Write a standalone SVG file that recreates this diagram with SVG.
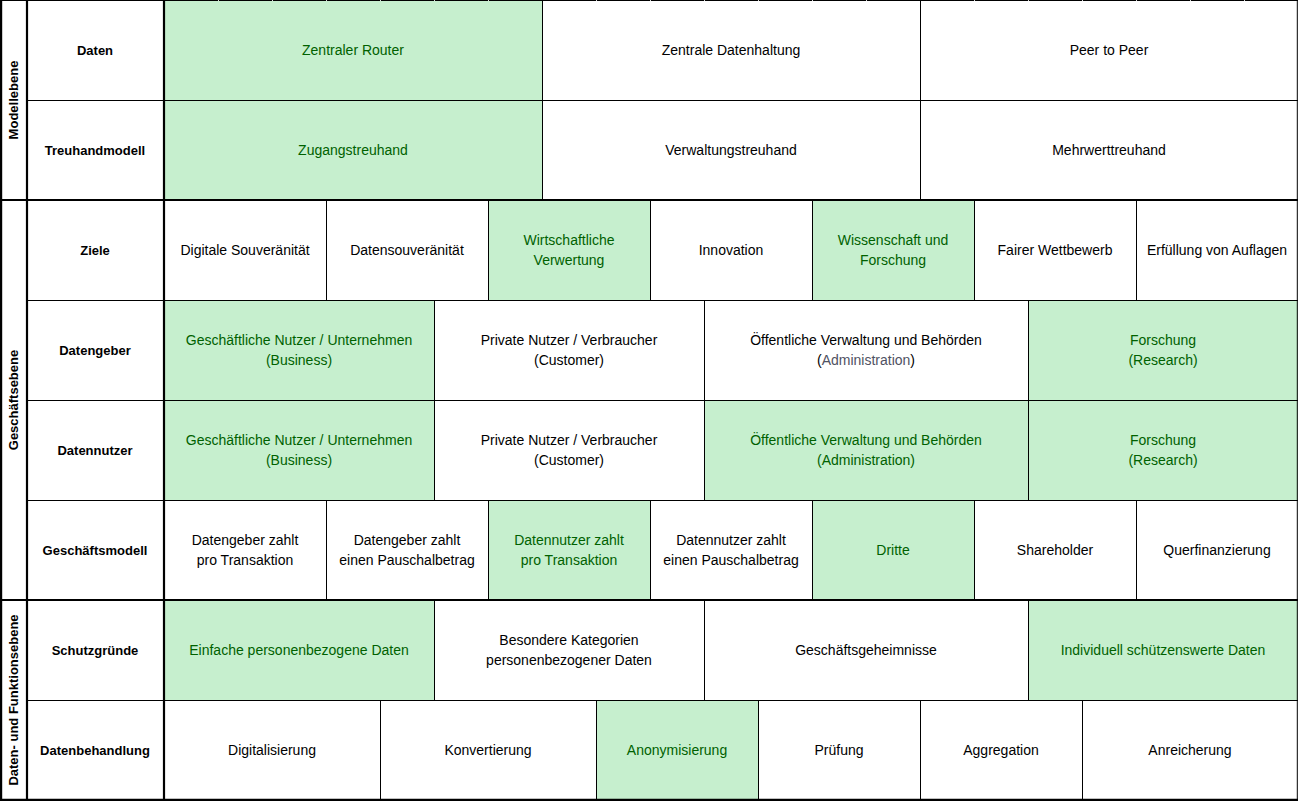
<svg xmlns="http://www.w3.org/2000/svg" width="1298" height="801" viewBox="0 0 1298 801">
<style>
.bg{fill:#ffffff}
.g{fill:#C6EFCE}
.w{fill:#ffffff}
text{font-family:"Liberation Sans",Arial,sans-serif;font-size:14px;text-anchor:middle}
.t{fill:#000000}
.tg{fill:#006100}
.lab{font-weight:bold;font-size:13px;fill:#000000}
.grey{fill:#4f5263}
.thin{stroke:#000;stroke-width:1;fill:none}
.thick{stroke:#000;stroke-width:2.2;fill:none}
.notch{stroke:#d9d9d9;stroke-width:1}
</style>
<rect class="bg" x="0" y="0" width="1298" height="801"/>

<!-- section labels -->
<g id="sec-modellebene"><text class="lab" transform="translate(18,100) rotate(-90)">Modellebene</text></g>
<g id="sec-geschaeftsebene"><text class="lab" transform="translate(18,400) rotate(-90)">Geschäftsebene</text></g>
<g id="sec-datenfunktion"><text class="lab" transform="translate(18,700) rotate(-90)">Daten- und Funktionsebene</text></g>

<!-- row labels -->
<g id="lab-daten"><text class="lab" x="95" y="55">Daten</text></g>
<g id="lab-treuhandmodell"><text class="lab" x="95" y="155">Treuhandmodell</text></g>
<g id="lab-ziele"><text class="lab" x="95" y="255">Ziele</text></g>
<g id="lab-datengeber"><text class="lab" x="95" y="355">Datengeber</text></g>
<g id="lab-datennutzer"><text class="lab" x="95" y="455">Datennutzer</text></g>
<g id="lab-geschaeftsmodell"><text class="lab" x="95" y="555">Geschäftsmodell</text></g>
<g id="lab-schutzgruende"><text class="lab" x="95" y="655">Schutzgründe</text></g>
<g id="lab-datenbehandlung"><text class="lab" x="95" y="755">Datenbehandlung</text></g>

<!-- Daten row -->
<g id="c-zentraler-router"><rect class="g" x="164" y="0" width="378" height="100"/><text class="tg" x="353" y="55">Zentraler Router</text></g>
<g id="c-zentrale-datenhaltung"><text class="t" x="731" y="55">Zentrale Datenhaltung</text></g>
<g id="c-peer"><text class="t" x="1109" y="55">Peer to Peer</text></g>

<!-- Treuhandmodell row -->
<g id="c-zugangstreuhand"><rect class="g" x="164" y="100" width="378" height="100"/><text class="tg" x="353" y="155">Zugangstreuhand</text></g>
<g id="c-verwaltungstreuhand"><text class="t" x="731" y="155">Verwaltungstreuhand</text></g>
<g id="c-mehrwerttreuhand"><text class="t" x="1109" y="155">Mehrwerttreuhand</text></g>

<!-- Ziele row -->
<g id="c-digitale-souv"><text class="t" x="245" y="255">Digitale Souveränität</text></g>
<g id="c-datensouv"><text class="t" x="407" y="255">Datensouveränität</text></g>
<g id="c-wirtschaftliche"><rect class="g" x="488" y="200" width="162" height="100"/><text class="tg" x="569" y="245">Wirtschaftliche</text><text class="tg" x="569" y="265">Verwertung</text></g>
<g id="c-innovation"><text class="t" x="731" y="255">Innovation</text></g>
<g id="c-wissenschaft"><rect class="g" x="812" y="200" width="162" height="100"/><text class="tg" x="893" y="245">Wissenschaft und</text><text class="tg" x="893" y="265">Forschung</text></g>
<g id="c-fairer"><text class="t" x="1055" y="255">Fairer Wettbewerb</text></g>
<g id="c-auflagen"><text class="t" x="1217" y="255">Erfüllung von Auflagen</text></g>

<!-- Datengeber row -->
<g id="c-dg-business"><rect class="g" x="164" y="300" width="270" height="100"/><text class="tg" x="299" y="345">Geschäftliche Nutzer / Unternehmen</text><text class="tg" x="299" y="365">(Business)</text></g>
<g id="c-dg-private"><text class="t" x="569" y="345">Private Nutzer / Verbraucher</text><text class="t" x="569" y="365">(Customer)</text></g>
<g id="c-dg-oeffentlich"><text class="t" x="866" y="345">Öffentliche Verwaltung und Behörden</text><text class="t" x="866" y="365">(<tspan class="grey">Administration</tspan>)</text></g>
<g id="c-dg-forschung"><rect class="g" x="1028" y="300" width="270" height="100"/><text class="tg" x="1163" y="345">Forschung</text><text class="tg" x="1163" y="365">(Research)</text></g>

<!-- Datennutzer row -->
<g id="c-dn-business"><rect class="g" x="164" y="400" width="270" height="100"/><text class="tg" x="299" y="445">Geschäftliche Nutzer / Unternehmen</text><text class="tg" x="299" y="465">(Business)</text></g>
<g id="c-dn-private"><text class="t" x="569" y="445">Private Nutzer / Verbraucher</text><text class="t" x="569" y="465">(Customer)</text></g>
<g id="c-dn-oeffentlich"><rect class="g" x="704" y="400" width="324" height="100"/><text class="tg" x="866" y="445">Öffentliche Verwaltung und Behörden</text><text class="tg" x="866" y="465">(Administration)</text></g>
<g id="c-dn-forschung"><rect class="g" x="1028" y="400" width="270" height="100"/><text class="tg" x="1163" y="445">Forschung</text><text class="tg" x="1163" y="465">(Research)</text></g>

<!-- Geschäftsmodell row -->
<g id="c-gm-dg-trans"><text class="t" x="245" y="545">Datengeber zahlt</text><text class="t" x="245" y="565">pro Transaktion</text></g>
<g id="c-gm-dg-pausch"><text class="t" x="407" y="545">Datengeber zahlt</text><text class="t" x="407" y="565">einen Pauschalbetrag</text></g>
<g id="c-gm-dn-trans"><rect class="g" x="488" y="500" width="162" height="100"/><text class="tg" x="569" y="545">Datennutzer zahlt</text><text class="tg" x="569" y="565">pro Transaktion</text></g>
<g id="c-gm-dn-pausch"><text class="t" x="731" y="545">Datennutzer zahlt</text><text class="t" x="731" y="565">einen Pauschalbetrag</text></g>
<g id="c-gm-dritte"><rect class="g" x="812" y="500" width="162" height="100"/><text class="tg" x="893" y="555">Dritte</text></g>
<g id="c-gm-shareholder"><text class="t" x="1055" y="555">Shareholder</text></g>
<g id="c-gm-querfin"><text class="t" x="1217" y="555">Querfinanzierung</text></g>

<!-- Schutzgründe row -->
<g id="c-sg-einfache"><rect class="g" x="164" y="600" width="270" height="100"/><text class="tg" x="299" y="655">Einfache personenbezogene Daten</text></g>
<g id="c-sg-besondere"><text class="t" x="569" y="645">Besondere Kategorien</text><text class="t" x="569" y="665">personenbezogener Daten</text></g>
<g id="c-sg-geheim"><text class="t" x="866" y="655">Geschäftsgeheimnisse</text></g>
<g id="c-sg-individuell"><rect class="g" x="1028" y="600" width="270" height="100"/><text class="tg" x="1163" y="655">Individuell schützenswerte Daten</text></g>

<!-- Datenbehandlung row -->
<g id="c-db-digital"><text class="t" x="272" y="755">Digitalisierung</text></g>
<g id="c-db-konv"><text class="t" x="488" y="755">Konvertierung</text></g>
<g id="c-db-anon"><rect class="g" x="596" y="700" width="162" height="100"/><text class="tg" x="677" y="755">Anonymisierung</text></g>
<g id="c-db-pruef"><text class="t" x="839" y="755">Prüfung</text></g>
<g id="c-db-aggr"><text class="t" x="1001" y="755">Aggregation</text></g>
<g id="c-db-anr"><text class="t" x="1190" y="755">Anreicherung</text></g>

<!-- grid lines -->
<g id="grid">
  <path class="thin" d="M27 100.5H1298M27 300.5H1298M27 400.5H1298M27 500.5H1298M27 700.5H1298"/>
  <path class="thin" d="M542.5 0V200M920.5 0V200"/>
  <path class="thin" d="M326.5 200V300M488.5 200V300M650.5 200V300M812.5 200V300M974.5 200V300M1136.5 200V300"/>
  <path class="thin" d="M434.5 300V500M704.5 300V500M1028.5 300V500"/>
  <path class="thin" d="M326.5 500V600M488.5 500V600M650.5 500V600M812.5 500V600M974.5 500V600M1136.5 500V600"/>
  <path class="thin" d="M434.5 600V700M704.5 600V700M1028.5 600V700"/>
  <path class="thin" d="M380.5 700V800M596.5 700V800M758.5 700V800M920.5 700V800M1082.5 700V800"/>
  <path class="thin" d="M0 0.5H1298M1297.3 0V801"/>
  <path class="thick" d="M0 200H1298M0 600H1298M0 799.8H1298M1.1 0V801M27 0V801M164 0V801"/>
  <path class="notch" d="M218.5 0V1M272.5 0V1M326.5 0V1M380.5 0V1M434.5 0V1M488.5 0V1M596.5 0V1M650.5 0V1M704.5 0V1M758.5 0V1M812.5 0V1M866.5 0V1M974.5 0V1M1028.5 0V1M1082.5 0V1M1136.5 0V1M1190.5 0V1M1244.5 0V1"/>
</g>
</svg>
